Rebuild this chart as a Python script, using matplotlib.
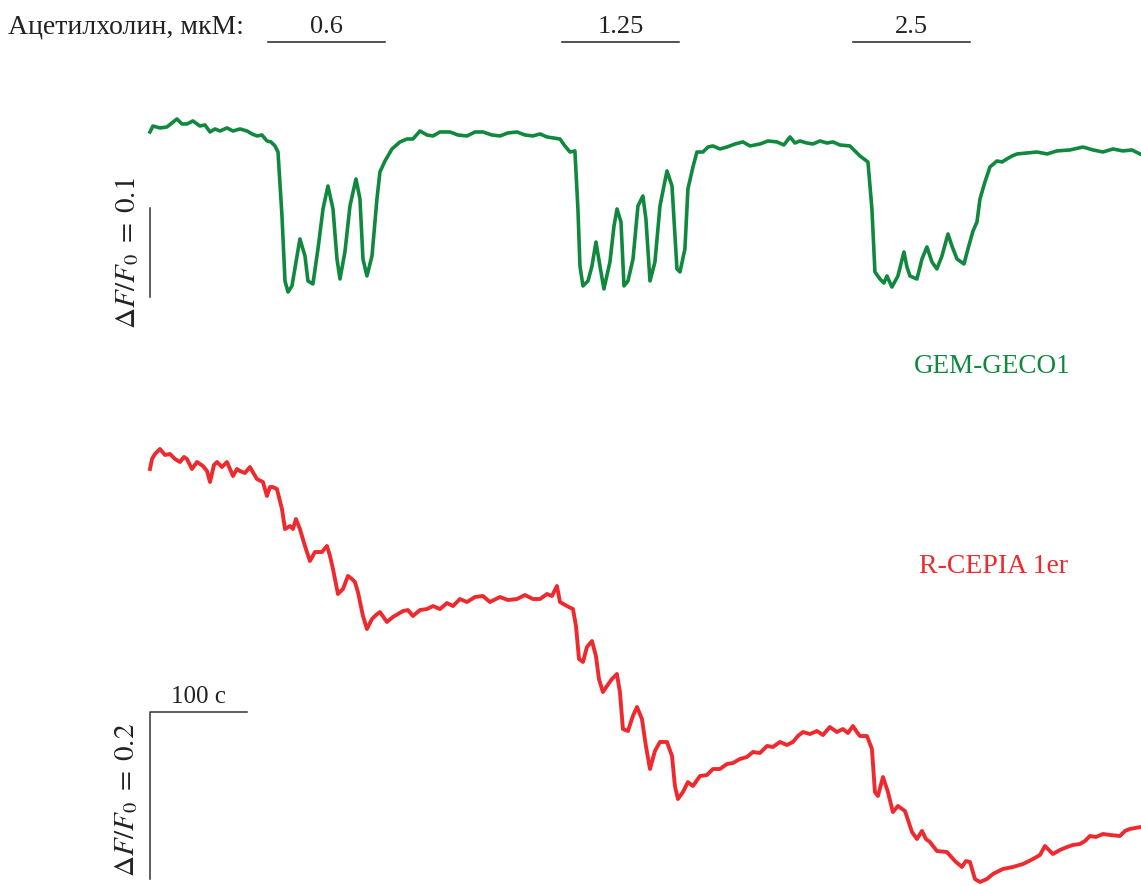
import matplotlib.pyplot as plt

# time (s) and dF/F0 (relative to start)
green_t = [0, 3.1, 10.3, 17.5, 22.7, 27.8, 33.0, 38.1, 44.3, 51.5, 56.7, 61.9, 67.0, 72.2, 79.4,
           85.6, 92.8, 100.0, 105.2, 110.3, 115.5, 120.6, 124.7, 128.9, 132.0, 136.1, 139.2, 142.3,
           146.4, 151.6, 154.6, 159.8, 162.9, 168.0, 173.2, 178.4, 183.5, 188.7, 192.8, 195.9, 201.0,
           206.2, 212.4, 216.5, 219.6, 223.7, 228.9, 234.0, 237.1, 242.3, 249.5, 257.7, 264.9, 271.1,
           278.4, 285.6, 291.8, 299.0, 309.3, 317.5, 326.8, 335.1, 343.3, 352.6, 360.8, 369.1, 378.4,
           386.6, 394.8, 402.1, 409.3, 415.5, 422.7, 427.8, 433.0, 438.1, 441.2, 443.3, 446.4, 451.6,
           455.7, 459.8, 463.9, 468.0, 474.2, 478.4, 481.5, 485.6, 488.7, 492.8, 498.0, 503.1, 508.2,
           511.3, 515.5, 520.6, 525.8, 533.0, 538.2, 543.3, 546.4, 551.5, 554.6, 559.8, 563.9, 570.1,
           575.3, 580.4, 587.6, 594.9, 603.1, 611.3, 618.6, 628.9, 637.1, 646.4, 653.6, 659.8, 665.0,
           670.1, 677.3, 683.5, 690.7, 697.9, 704.1, 711.3, 721.6, 727.8, 732.0, 736.1, 740.2, 744.3,
           747.4, 752.6, 756.7, 759.8, 764.9, 771.1, 774.2, 777.3, 780.4, 783.5, 790.7, 795.9, 801.0,
           806.2, 811.3, 816.5, 822.7, 826.8, 832.0, 839.2, 843.3, 848.5, 852.6, 855.7, 860.8, 866.0,
           873.2, 878.4, 883.5, 888.7, 893.9, 904.2, 914.5, 924.8, 935.1, 948.5, 961.9, 972.2, 982.5,
           992.8, 1003.1, 1012.4, 1020.6]
green_dff = [0.0, 0.0067, 0.0045, 0.0056, 0.0101, 0.0146, 0.0090, 0.0090, 0.0124, 0.0067, 0.0079,
             0.0, 0.0034, 0.0011, 0.0045, 0.0011, 0.0034, 0.0011, -0.0022, -0.0045, -0.0034, -0.0101,
             -0.0112, -0.0157, -0.0225, -0.0944, -0.1674, -0.1798, -0.1730, -0.1393, -0.1202, -0.1393,
             -0.1674, -0.1708, -0.1315, -0.0865, -0.0607, -0.0865, -0.1427, -0.1652, -0.1348, -0.0831,
             -0.0528, -0.0753, -0.1427, -0.1618, -0.1393, -0.0753, -0.0449, -0.0326, -0.0191, -0.0112,
             -0.0079, -0.0079, 0.0011, -0.0034, -0.0045, 0.0, 0.0, -0.0034, -0.0045, 0.0, 0.0, -0.0034,
             -0.0045, -0.0011, 0.0, -0.0034, -0.0045, -0.0022, -0.0056, -0.0067, -0.0079, -0.0157,
             -0.0225, -0.0213, -0.0865, -0.1506, -0.1730, -0.1674, -0.1506, -0.1236, -0.1506, -0.1764,
             -0.1461, -0.1056, -0.0865, -0.1011, -0.1730, -0.1674, -0.1427, -0.0831, -0.0719, -0.0978,
             -0.1674, -0.1461, -0.0831, -0.0438, -0.0607, -0.1539, -0.1573, -0.1315, -0.0640, -0.0393,
             -0.0225, -0.0225, -0.0169, -0.0157, -0.0191, -0.0169, -0.0135, -0.0112, -0.0157, -0.0135,
             -0.0101, -0.0112, -0.0146, -0.0056, -0.0124, -0.0101, -0.0124, -0.0135, -0.0101, -0.0124,
             -0.0112, -0.0146, -0.0157, -0.0225, -0.0270, -0.0303, -0.0337, -0.0865, -0.1573, -0.1652,
             -0.1697, -0.1618, -0.1742, -0.1618, -0.1483, -0.1348, -0.1517, -0.1618, -0.1652, -0.1427,
             -0.1292, -0.1461, -0.1539, -0.1393, -0.1146, -0.1281, -0.1427, -0.1483, -0.1315, -0.1112,
             -0.1011, -0.0753, -0.0562, -0.0393, -0.0326, -0.0337, -0.0303, -0.0270, -0.0247, -0.0236,
             -0.0225, -0.0247, -0.0213, -0.0202, -0.0169, -0.0202, -0.0225, -0.0191, -0.0213, -0.0202,
             -0.0247]

red_t = [0, 2.1, 5.2, 10.3, 15.5, 20.6, 25.8, 30.9, 35.1, 38.1, 43.3, 48.5, 54.6, 58.8, 61.9, 66.0,
         69.1, 74.2, 79.4, 85.6, 89.7, 92.8, 97.9, 103.1, 107.2, 110.3, 116.5, 120.6, 123.7, 126.8,
         130.9, 136.1, 139.2, 144.3, 147.4, 150.5, 154.6, 159.8, 164.9, 170.1, 177.3, 182.5, 185.6,
         188.7, 193.8, 199.0, 204.1, 208.2, 211.3, 214.4, 219.6, 223.7, 228.9, 233.0, 237.1, 244.3,
         250.5, 255.7, 260.8, 266.0, 271.1, 278.4, 285.6, 291.8, 299.0, 306.2, 312.4, 319.6, 326.8,
         335.1, 343.3, 350.5, 360.8, 369.1, 378.4, 386.6, 394.8, 402.1, 409.3, 414.4, 419.6, 422.7,
         429.9, 436.1, 439.2, 442.3, 446.4, 450.5, 455.7, 459.8, 462.9, 467.0, 471.1, 476.3, 481.4,
         484.5, 487.6, 492.8, 497.9, 502.1, 507.2, 511.3, 515.5, 520.6, 525.8, 533.0, 538.2, 541.2,
         544.3, 549.5, 554.6, 559.8, 567.0, 574.2, 580.4, 587.6, 594.9, 601.0, 608.2, 615.5, 621.6,
         628.9, 636.1, 642.3, 649.5, 656.7, 662.9, 668.0, 673.2, 680.4, 687.6, 693.8, 700.9, 708.2,
         714.4, 719.6, 724.7, 728.8, 732.0, 739.2, 744.3, 747.4, 750.5, 755.7, 760.8, 765.9, 771.1,
         778.4, 785.6, 790.7, 795.9, 800.0, 804.1, 811.3, 821.6, 829.9, 837.1, 841.2, 845.4, 850.5,
         855.7, 862.9, 869.1, 879.4, 889.7, 900.0, 910.3, 917.5, 922.7, 930.9, 938.1, 945.4, 951.5,
         958.8, 963.9, 969.1, 975.3, 982.5, 989.7, 1000.0, 1005.2, 1010.3, 1021.6]
red_dff = [0.0, 0.0120, 0.0180, 0.0240, 0.0168, 0.0180, 0.0120, 0.0084, 0.0144, 0.0120, 0.0, 0.0084,
           0.0036, -0.0024, -0.0156, 0.0048, 0.0084, 0.0024, 0.0084, -0.0084, 0.0, -0.0024, -0.0048,
           0.0024, -0.0060, -0.0120, -0.0156, -0.0323, -0.0216, -0.0216, -0.0240, -0.0479, -0.0719,
           -0.0683, -0.0719, -0.0599, -0.0719, -0.0922, -0.1102, -0.0994, -0.0994, -0.0922, -0.1042,
           -0.1198, -0.1497, -0.1437, -0.1281, -0.1317, -0.1353, -0.1473, -0.1760, -0.1916, -0.1796,
           -0.1749, -0.1713, -0.1832, -0.1772, -0.1737, -0.1701, -0.1689, -0.1760, -0.1689, -0.1677,
           -0.1641, -0.1677, -0.1605, -0.1641, -0.1557, -0.1593, -0.1533, -0.1521, -0.1593, -0.1533,
           -0.1569, -0.1557, -0.1509, -0.1557, -0.1557, -0.1497, -0.1521, -0.1401, -0.1593, -0.1641,
           -0.1677, -0.1880, -0.2275, -0.2311, -0.2132, -0.2060, -0.2240, -0.2515, -0.2671, -0.2599,
           -0.2515, -0.2455, -0.2671, -0.3114, -0.3138, -0.2958, -0.2850, -0.2994, -0.3317, -0.3593,
           -0.3377, -0.3269, -0.3269, -0.3437, -0.3796, -0.3952, -0.3868, -0.3749, -0.3796, -0.3677,
           -0.3665, -0.3593, -0.3593, -0.3533, -0.3521, -0.3473, -0.3449, -0.3389, -0.3401, -0.3317,
           -0.3329, -0.3269, -0.3305, -0.3269, -0.3198, -0.3150, -0.3174, -0.3138, -0.3186, -0.3090,
           -0.3150, -0.3114, -0.3162, -0.3078, -0.3150, -0.3198, -0.3198, -0.3353, -0.3868, -0.3916,
           -0.3689, -0.3868, -0.4108, -0.4036, -0.4096, -0.4347, -0.4431, -0.4335, -0.4431, -0.4467,
           -0.4575, -0.4587, -0.4695, -0.4766, -0.4695, -0.4707, -0.4910, -0.4946, -0.4910, -0.4850,
           -0.4790, -0.4766, -0.4731, -0.4671, -0.4623, -0.4515, -0.4611, -0.4563, -0.4527, -0.4503,
           -0.4491, -0.4455, -0.4395, -0.4407, -0.4371, -0.4383, -0.4395, -0.4335, -0.4311, -0.4287]

ach_labels = ["0.6", "1.25", "2.5"]
ach_start = [122, 425, 725]  # s
ach_duration = 120  # s

GREEN = "#10893e"
RED = "#ee2a2f"
INK = "#222222"

plt.rcParams["font.family"] = ["Liberation Serif", "DejaVu Serif"]
plt.rcParams["mathtext.fontset"] = "stix"

fig = plt.figure(figsize=(11.41, 8.87), dpi=100)
xlim = (-154.6, 1021.7)

# one overlay axes per trace, each with its own dF/F0 scale
ax_g = fig.add_axes([0, 0, 1, 1])
ax_g.set_xlim(*xlim)
ax_g.set_ylim(-0.8472, 0.1494)
ax_g.axis("off")

ax_r = fig.add_axes([0, 0, 1, 1])
ax_r.set_xlim(*xlim)
ax_r.set_ylim(-0.4994, 0.5629)
ax_r.axis("off")

ax_g.plot(green_t, green_dff, color=GREEN, lw=2.6, solid_joinstyle="round")
ax_r.plot(red_t, red_dff, color=RED, lw=2.8, solid_joinstyle="round")

# acetylcholine application bars
ax_g.text(-146.4, 0.119, "Ацетилхолин, мкМ:", fontsize=20, ha="left", va="center", color=INK)
for label, start in zip(ach_labels, ach_start):
    ax_g.plot([start, start + ach_duration], [0.101, 0.101], color=INK, lw=1.1)
    ax_g.text(start + ach_duration / 2, 0.119, label, fontsize=19, ha="center", va="center",
              color=INK)

# scale bars
ax_g.plot([0, 0], [-0.185, -0.085], color="#333333", lw=1.1)
ax_g.text(-23.7, -0.135, r"$\Delta F/F_0\;=\;0.1$", fontsize=21, rotation=90,
          ha="center", va="center", color=INK)
ax_r.plot([100, 0, 0], [-0.291, -0.291, -0.491], color="#333333", lw=1.1)
ax_r.text(49.5, -0.272, "100 с", fontsize=18, ha="center", va="center", color=INK)
ax_r.text(-23.7, -0.395, r"$\Delta F/F_0\;=\;0.2$", fontsize=21, rotation=90,
          ha="center", va="center", color=INK)

ax_g.text(868, -0.262, "GEM-GECO1", fontsize=19.5, ha="center", va="center", color=GREEN)
ax_r.text(870, -0.115, "R-CEPIA 1er", fontsize=20, ha="center", va="center", color=RED)

fig.savefig("out.png", dpi=100)
plt.close(fig)
